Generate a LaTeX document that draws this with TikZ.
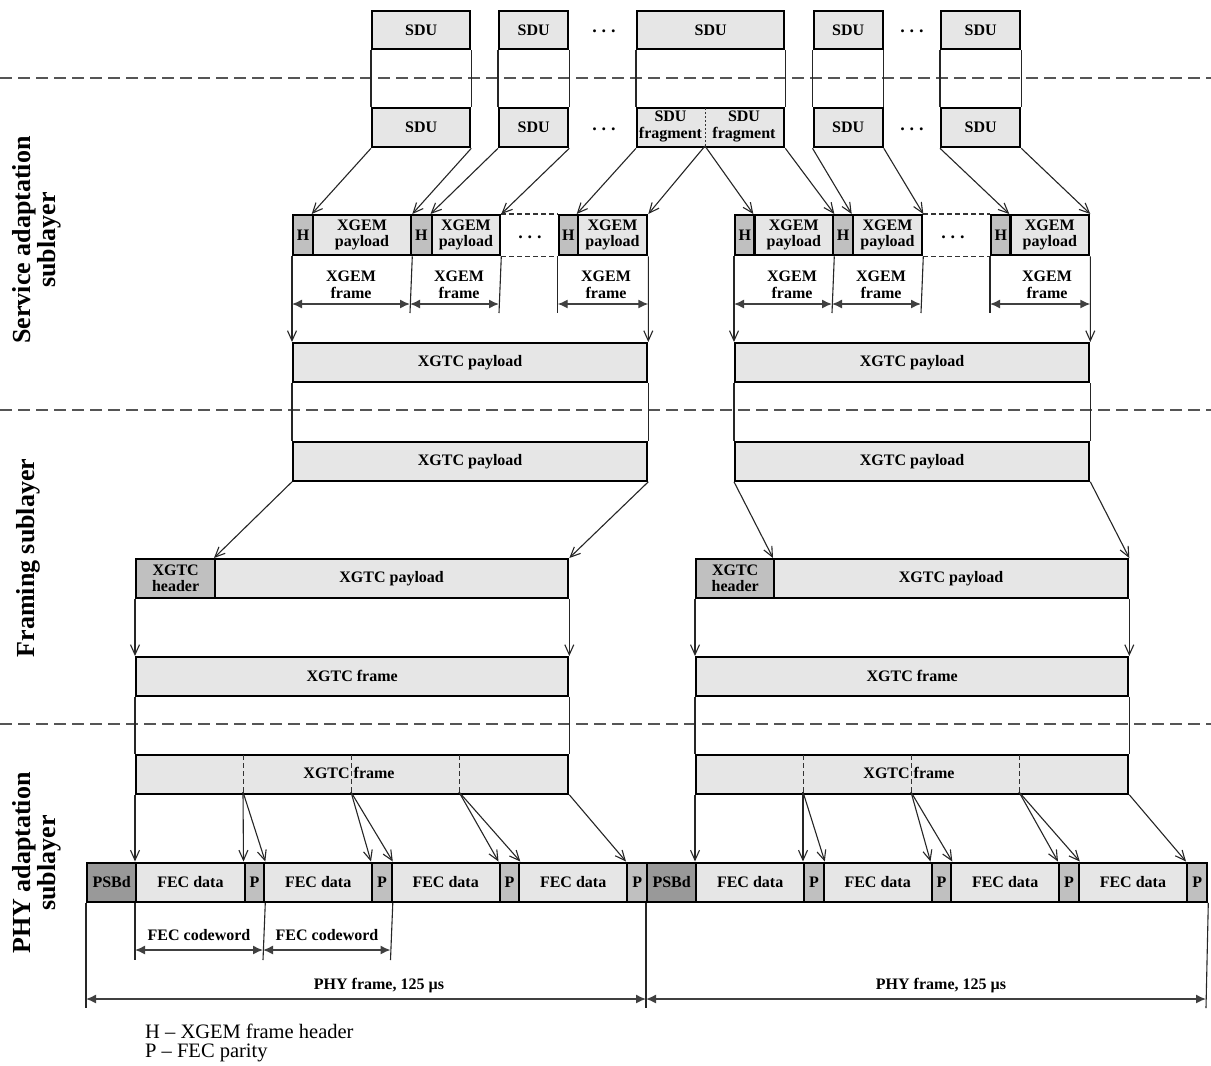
\documentclass[tikz,border=0pt]{standalone}
\usepackage{fontspec}
\setmainfont{Liberation Serif}
\usetikzlibrary{arrows.meta}
\definecolor{boxfill}{HTML}{E6E6E6}
\definecolor{hfill}{HTML}{C0C0C0}
\definecolor{psfill}{HTML}{999999}
\definecolor{sepgray}{HTML}{555555}
\newcommand\lblfont{\fontsize{16}{16.5}\selectfont\bfseries}
\newcommand\mybox[7]{\node[#6, anchor=north west, minimum width={#4pt-#2pt}, minimum height={#5pt-#3pt}] (#1) at (#2,#3) {#7};}
\begin{document}
\begin{tikzpicture}[x=1pt,y=-1pt,
  pbox/.style={draw=black, line width=2.3pt, fill=boxfill, inner sep=0pt, align=center, font=\lblfont},
  hbox/.style={pbox, fill=hfill},
  psbox/.style={pbox, fill=psfill},
  conn/.style={draw=black!85, line width=1.1pt, -{Straight Barb[length=10pt,width=9pt,line width=1.1pt]}},
  plainline/.style={draw=black!85, line width=1.1pt},
  extline/.style={draw=black!85, line width=1.1pt},
  dimarrow/.style={draw=black!75, line width=1.4pt, {Latex[length=10pt,width=9pt]}-{Latex[length=10pt,width=9pt]}},
  seprule/.style={draw=sepgray, line width=1.3pt, dash pattern=on 12pt off 6pt},
  divline/.style={draw=black!80, line width=0.9pt, dash pattern=on 5pt off 3pt},
  fragline/.style={draw=black!80, line width=0.9pt, dash pattern=on 2pt off 2pt},
  gapline/.style={draw=black!80, line width=1.1pt, dash pattern=on 5pt off 3pt},
  dotsnode/.style={inner sep=0pt, font=\fontsize{18}{18}\selectfont\bfseries},
  lbl/.style={inner sep=0pt, align=center, font=\lblfont},
  sidelbl/.style={inner sep=0pt, align=center, rotate=90, font=\fontsize{26}{25}\selectfont\bfseries},
  legendtxt/.style={inner sep=0pt, anchor=west, font=\fontsize{20.5}{20.5}\selectfont}
]
\fill[white] (0,0) rectangle (1211,1066);
\useasboundingbox (0,0) rectangle (1211,1066);

% separators
\coordinate (s1l) at (0,78); \coordinate (s1r) at (1211,78);
\coordinate (s2l) at (0,410); \coordinate (s2r) at (1211,410);
\coordinate (s3l) at (0,724); \coordinate (s3r) at (1211,724);
\draw[seprule] (s1l) -- (s1r);
\draw[seprule] (s2l) -- (s2r);
\draw[seprule] (s3l) -- (s3r);

% side labels
\node[sidelbl] (sal) at (37,240) {Service adaptation\\sublayer};
\node[sidelbl] (fsl) at (28,558) {Framing sublayer};
\node[sidelbl] (pal) at (37,863) {PHY adaptation\\sublayer};

% Row A SDUs
\mybox{sduA1}{371}{9.5}{469}{48}{pbox}{SDU}
\mybox{sduA2}{498}{9.5}{567}{48}{pbox}{SDU}
\mybox{sduA3}{636}{9.5}{783}{48}{pbox}{SDU}
\mybox{sduA4}{812.5}{9.5}{881.5}{48}{pbox}{SDU}
\mybox{sduA5}{940}{9.5}{1019}{48}{pbox}{SDU}
\node[dotsnode] (dotA1) at (604,31) {.\hspace{5pt}.\hspace{5pt}.};
\node[dotsnode] (dotA2) at (912,31) {.\hspace{5pt}.\hspace{5pt}.};

% Row B SDUs
\mybox{sduB1}{371}{107}{469}{146}{pbox}{SDU}
\mybox{sduB2}{498}{107}{567}{146}{pbox}{SDU}
\mybox{sduB3}{636}{107}{783}{146}{pbox}{}
\mybox{sduB4}{812.5}{107}{881.5}{146}{pbox}{SDU}
\mybox{sduB5}{940}{107}{1019}{146}{pbox}{SDU}
\node[lbl] (fragL) at (670.5,126.5) {SDU\\fragment};
\node[lbl] (fragR) at (744,126.5) {SDU\\fragment};
\coordinate (fragTop) at (705,108); \coordinate (fragBot) at (705,146);
\draw[fragline] (fragTop) -- (fragBot);
\node[dotsnode] (dotB1) at (604,129) {.\hspace{5pt}.\hspace{5pt}.};
\node[dotsnode] (dotB2) at (912,129) {.\hspace{5pt}.\hspace{5pt}.};

\foreach \n in {1,...,5}{
  \draw[plainline] (sduA\n.south west) -- (sduB\n.north west);
  \draw[plainline] (sduA\n.south east) -- (sduB\n.north east);
}

% XGEM row
\mybox{h1}{292}{214}{311.7}{254}{hbox}{H}
\mybox{p1}{311.7}{214}{410}{254}{pbox}{XGEM\\payload}
\mybox{h2}{410}{214}{430.5}{254}{hbox}{H}
\mybox{p2}{430.5}{214}{499}{254}{pbox}{XGEM\\payload}
\mybox{h3}{557.7}{214}{576.7}{254}{hbox}{H}
\mybox{p3}{576.7}{214}{646}{254}{pbox}{XGEM\\payload}
\mybox{h4}{734}{214}{753.3}{254}{hbox}{H}
\mybox{p4}{753.3}{214}{832}{254}{pbox}{XGEM\\payload}
\mybox{h5}{832}{214}{851.7}{254}{hbox}{H}
\mybox{p5}{851.7}{214}{921}{254}{pbox}{XGEM\\payload}
\mybox{h6}{990}{214}{1009.3}{254}{hbox}{H}
\mybox{p6}{1009.3}{214}{1088}{254}{pbox}{XGEM\\payload}
\draw[gapline] (p2.north east) -- (h3.north west);
\draw[gapline] (p2.south east) -- (h3.south west);
\draw[gapline] (p5.north east) -- (h6.north west);
\draw[gapline] (p5.south east) -- (h6.south west);
\node[dotsnode] (dotC1) at (530,237) {.\hspace{5pt}.\hspace{5pt}.};
\node[dotsnode] (dotC2) at (953,237) {.\hspace{5pt}.\hspace{5pt}.};

% SDU -> XGEM
\draw[conn] (sduB1.south west) -- (p1.north west);
\draw[conn] (sduB1.south east) -- (p1.north east);
\draw[conn] (sduB2.south west) -- (p2.north west);
\draw[conn] (sduB2.south east) -- (p2.north east);
\draw[conn] (sduB3.south west) -- (p3.north west);
\draw[conn] (fragBot) -- (p3.north east);
\draw[conn] (fragBot) -- (p4.north west);
\draw[conn] (sduB3.south east) -- (p4.north east);
\draw[conn] (sduB4.south west) -- (p5.north west);
\draw[conn] (sduB4.south east) -- (p5.north east);
\draw[conn] (sduB5.south west) -- (p6.north west);
\draw[conn] (sduB5.south east) -- (p6.north east);

% XGTC payload (service)
\mybox{xpA}{292}{342}{646}{381}{pbox}{XGTC payload}
\mybox{xpB}{734}{342}{1088}{381}{pbox}{XGTC payload}

% XGEM frame dimensions
\coordinate (e1) at (410,313); \coordinate (e2) at (499,313); \coordinate (e3) at (557.7,313);
\coordinate (e4) at (832,313); \coordinate (e5) at (921,313); \coordinate (e6) at (990,313);
\draw[extline] (p1.south east) -- (e1);
\draw[extline] (p2.south east) -- (e2);
\draw[extline] (h3.south west) -- (e3);
\draw[extline] (p4.south east) -- (e4);
\draw[extline] (p5.south east) -- (e5);
\draw[extline] (h6.south west) -- (e6);
\draw[conn] (h1.south west) -- (xpA.north west);
\draw[conn] (p3.south east) -- (xpA.north east);
\draw[conn] (h4.south west) -- (xpB.north west);
\draw[conn] (p6.south east) -- (xpB.north east);
\coordinate (xgd) at (0,304);
\draw[dimarrow] (h1.south west |- xgd) -- (e1 |- xgd);
\draw[dimarrow] (e1 |- xgd) -- (e2 |- xgd);
\draw[dimarrow] (e3 |- xgd) -- (p3.south east |- xgd);
\draw[dimarrow] (h4.south west |- xgd) -- (e4 |- xgd);
\draw[dimarrow] (e4 |- xgd) -- (e5 |- xgd);
\draw[dimarrow] (e6 |- xgd) -- (p6.south east |- xgd);
\node[lbl] (xf1) at (351,285) {XGEM\\frame};
\node[lbl] (xf2) at (459,285) {XGEM\\frame};
\node[lbl] (xf3) at (606,285) {XGEM\\frame};
\node[lbl] (xf4) at (792,285) {XGEM\\frame};
\node[lbl] (xf5) at (881,285) {XGEM\\frame};
\node[lbl] (xf6) at (1047,285) {XGEM\\frame};

% XGTC payload (framing)
\mybox{xqA}{292}{441}{646}{479.5}{pbox}{XGTC payload}
\mybox{xqB}{734}{441}{1088}{479.5}{pbox}{XGTC payload}
\draw[plainline] (xpA.south west) -- (xqA.north west);
\draw[plainline] (xpA.south east) -- (xqA.north east);
\draw[plainline] (xpB.south west) -- (xqB.north west);
\draw[plainline] (xpB.south east) -- (xqB.north east);

\mybox{hdrA}{135}{558}{214}{596.5}{hbox}{XGTC\\header}
\mybox{plA}{214}{558}{567}{596.5}{pbox}{XGTC payload}
\mybox{hdrB}{695}{558}{773}{596.5}{hbox}{XGTC\\header}
\mybox{plB}{773}{558}{1127}{596.5}{pbox}{XGTC payload}
\draw[conn] (xqA.south west) -- (plA.north west);
\draw[conn] (xqA.south east) -- (plA.north east);
\draw[conn] (xqB.south west) -- (plB.north west);
\draw[conn] (xqB.south east) -- (plB.north east);

\mybox{xfA}{135}{656}{567}{694.5}{pbox}{XGTC frame}
\mybox{xfB}{695}{656}{1127}{694.5}{pbox}{XGTC frame}
\draw[conn] (hdrA.south west) -- (xfA.north west);
\draw[conn] (plA.south east) -- (xfA.north east);
\draw[conn] (hdrB.south west) -- (xfB.north west);
\draw[conn] (plB.south east) -- (xfB.north east);

% XGTC frame (PHY)
\mybox{yfA}{135}{754}{567}{792.5}{pbox}{}
\mybox{yfB}{695}{754}{1127}{792.5}{pbox}{}
\draw[plainline] (xfA.south west) -- (yfA.north west);
\draw[plainline] (xfA.south east) -- (yfA.north east);
\draw[plainline] (xfB.south west) -- (yfB.north west);
\draw[plainline] (xfB.south east) -- (yfB.north east);
\foreach \nm/\xx in {dA1/243,dA2/351,dA3/459,dB1/803,dB2/911,dB3/1019}{
  \coordinate (\nm t) at (\xx,755);
  \coordinate (\nm) at (\xx,792);
  \draw[divline] (\nm t) -- (\nm);
}
\node[lbl] (yfAl) at (349,773) {XGTC frame};
\node[lbl] (yfBl) at (909,773) {XGTC frame};

% PHY row
\mybox{psA}{86}{861.5}{135}{900.5}{psbox}{PSBd}
\mybox{fA1}{135}{861.5}{243.5}{900.5}{pbox}{FEC data}
\mybox{pA1}{243.5}{861.5}{263}{900.5}{hbox}{P}
\mybox{fA2}{263}{861.5}{371}{900.5}{pbox}{FEC data}
\mybox{pA2}{371}{861.5}{390.5}{900.5}{hbox}{P}
\mybox{fA3}{390.5}{861.5}{498.5}{900.5}{pbox}{FEC data}
\mybox{pA3}{498.5}{861.5}{518}{900.5}{hbox}{P}
\mybox{fA4}{518}{861.5}{626}{900.5}{pbox}{FEC data}
\mybox{pA4}{626}{861.5}{646}{900.5}{hbox}{P}
\mybox{psB}{646}{861.5}{695}{900.5}{psbox}{PSBd}
\mybox{fB1}{695}{861.5}{803}{900.5}{pbox}{FEC data}
\mybox{pB1}{803}{861.5}{822.5}{900.5}{hbox}{P}
\mybox{fB2}{822.5}{861.5}{930.5}{900.5}{pbox}{FEC data}
\mybox{pB2}{930.5}{861.5}{950}{900.5}{hbox}{P}
\mybox{fB3}{950}{861.5}{1058}{900.5}{pbox}{FEC data}
\mybox{pB3}{1058}{861.5}{1077.5}{900.5}{hbox}{P}
\mybox{fB4}{1077.5}{861.5}{1186}{900.5}{pbox}{FEC data}
\mybox{pB4}{1186}{861.5}{1206}{900.5}{hbox}{P}

\draw[conn] (yfA.south west) -- (fA1.north west);
\draw[conn] (dA1) -- (pA1.north west);
\draw[conn] (dA1) -- (pA1.north east);
\draw[conn] (dA2) -- (pA2.north west);
\draw[conn] (dA2) -- (pA2.north east);
\draw[conn] (dA3) -- (pA3.north west);
\draw[conn] (dA3) -- (pA3.north east);
\draw[conn] (yfA.south east) -- (pA4.north west);
\draw[conn] (yfB.south west) -- (fB1.north west);
\draw[conn] (dB1) -- (pB1.north west);
\draw[conn] (dB1) -- (pB1.north east);
\draw[conn] (dB2) -- (pB2.north west);
\draw[conn] (dB2) -- (pB2.north east);
\draw[conn] (dB3) -- (pB3.north west);
\draw[conn] (dB3) -- (pB3.north east);
\draw[conn] (yfB.south east) -- (pB4.north west);

% FEC codeword dimensions
\coordinate (cw0) at (135,960); \coordinate (cw1) at (263,960); \coordinate (cw2) at (390.5,960);
\draw[extline] (fA1.south west) -- (cw0);
\draw[extline] (pA1.south east) -- (cw1);
\draw[extline] (pA2.south east) -- (cw2);
\coordinate (cwd) at (0,950);
\draw[dimarrow] (cw0 |- cwd) -- (cw1 |- cwd);
\draw[dimarrow] (cw1 |- cwd) -- (cw2 |- cwd);
\node[lbl] (cwl1) at (199,935) {FEC codeword};
\node[lbl] (cwl2) at (327,935) {FEC codeword};

% PHY frame dimensions
\coordinate (pf0) at (86,1008); \coordinate (pf1) at (646,1008); \coordinate (pf2) at (1206,1008);
\draw[extline] (psA.south west) -- (pf0);
\draw[extline] (psB.south west) -- (pf1);
\draw[extline] (pB4.south east) -- (pf2);
\coordinate (pfd) at (0,999);
\draw[dimarrow] (pf0 |- pfd) -- (pf1 |- pfd);
\draw[dimarrow] (pf1 |- pfd) -- (pf2 |- pfd);
\node[lbl] (pfl1) at (379,986) {PHY frame, 125 µs};
\node[lbl] (pfl2) at (941,986) {PHY frame, 125 µs};

% legend
\node[legendtxt] (lg1) at (145,1031) {H – XGEM frame header};
\node[legendtxt] (lg2) at (145,1053) {P – FEC parity};
\end{tikzpicture}
\end{document}
